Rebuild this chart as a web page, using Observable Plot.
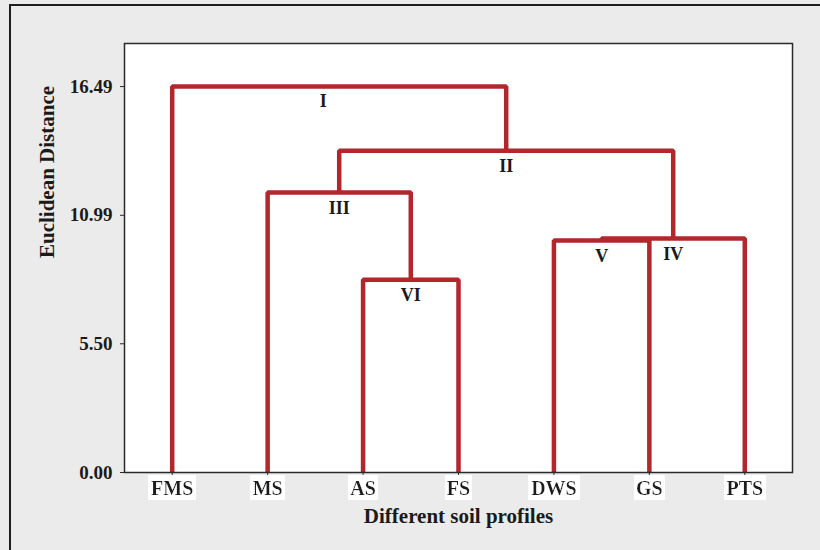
<!DOCTYPE html>
<html><head><meta charset="utf-8">
<script src="https://cdn.jsdelivr.net/npm/d3@7"></script>
<script src="https://cdn.jsdelivr.net/npm/@observablehq/plot@0.6"></script>
<style>
html,body{margin:0;padding:0;width:820px;height:550px;overflow:hidden;background:#ebebeb;}
#border{position:absolute;left:9px;top:4px;width:840px;height:570px;border-top:2px solid #1e1e1e;border-left:2px solid #1e1e1e;}
#chart{position:absolute;left:0;top:0;}
</style></head><body>
<div id="border"></div>
<svg width="0" height="0" style="position:absolute"><defs><filter id="whitebg" x="-0.06" y="-0.04" width="1.12" height="1.08"><feFlood flood-color="white"/><feComposite in="SourceGraphic" operator="over"/></filter></defs></svg>
<div id="chart"></div>
<script>
// Leaves (x-axis categories), in dendrogram order
const leaves = ["FMS", "MS", "AS", "FS", "DWS", "GS", "PTS"];
// Merges: cluster name, joining height (Euclidean distance), children
const clusters   = ["VI",   "V",    "IV",   "III",   "II",    "I"];
const heights    = [8.24,   9.91,   10.00,  11.96,   13.75,   16.49];
const leftChild  = ["AS",   "DWS",  "V",    "MS",    "III",   "FMS"];
const rightChild = ["FS",   "GS",   "PTS",  "VI",    "IV",    "II"];
// Y tick values
const yTicks = [0, 5.50, 10.99, 16.49];

// Build dendrogram geometry from the merges
const pos = new Map(leaves.map((d, i) => [d, {x: i, y: 0}]));
const links = [];
const nodes = [];
clusters.forEach((c, i) => {
  const a = pos.get(leftChild[i]), b = pos.get(rightChild[i]), h = heights[i];
  const n = {name: c, x: (a.x + b.x) / 2, y: h};
  pos.set(c, n);
  nodes.push(n);
  links.push({c, x: a.x, y: a.y}, {c, x: a.x, y: h}, {c, x: b.x, y: h}, {c, x: b.x, y: b.y});
});

const RED = "#b2272c";
const INK = "#1a1a1a";

const chart = Plot.plot({
  width: 820,
  height: 550,
  marginLeft: 124,
  marginRight: 28,
  marginTop: 43,
  marginBottom: 78,
  style: {fontFamily: "'Liberation Serif', 'Times New Roman', serif", fontWeight: "bold", background: "transparent", color: INK, overflow: "visible"},
  x: {domain: [-0.5, leaves.length - 0.5]},
  y: {domain: [0, 18.33]},
  marks: [
    Plot.frame({fill: "white"}),
    Plot.line(links, {x: "x", y: "y", z: "c", stroke: RED, strokeWidth: 4.5, strokeLinejoin: "miter", strokeLinecap: "butt"}),
    Plot.frame({stroke: "#2a2a2a", strokeWidth: 1.5}),
    Plot.axisX(d3.range(leaves.length), {tickFormat: i => leaves[i], tickSize: 5, tickPadding: 3, fontSize: 20, label: null, stroke: "#2a2a2a"}),
    Plot.axisY(yTicks, {tickFormat: d3.format(".2f"), tickSize: 4, tickPadding: 8, fontSize: 19, label: null, stroke: "#2a2a2a"}),
    Plot.text(nodes.filter(d => d.name !== "I"), {x: "x", y: "y", text: "name", dy: 16, fontSize: 18, fill: INK}),
    Plot.text(nodes.filter(d => d.name === "I"), {x: "x", y: "y", text: "name", dy: 15, dx: -16, fontSize: 18, fill: INK}),
    Plot.text(["Euclidean Distance"], {frameAnchor: "left", text: d => d, rotate: -90, dx: -77, fontSize: 21, fill: INK}),
    Plot.text(["Different soil profiles"], {frameAnchor: "bottom", text: d => d, dy: 50, fontSize: 21, fill: INK})
  ]
});
document.getElementById("chart").appendChild(chart);
chart.querySelectorAll('[aria-label="x-axis tick label"] text').forEach(t => t.setAttribute("filter", "url(#whitebg)"));
</script>
</body></html>
